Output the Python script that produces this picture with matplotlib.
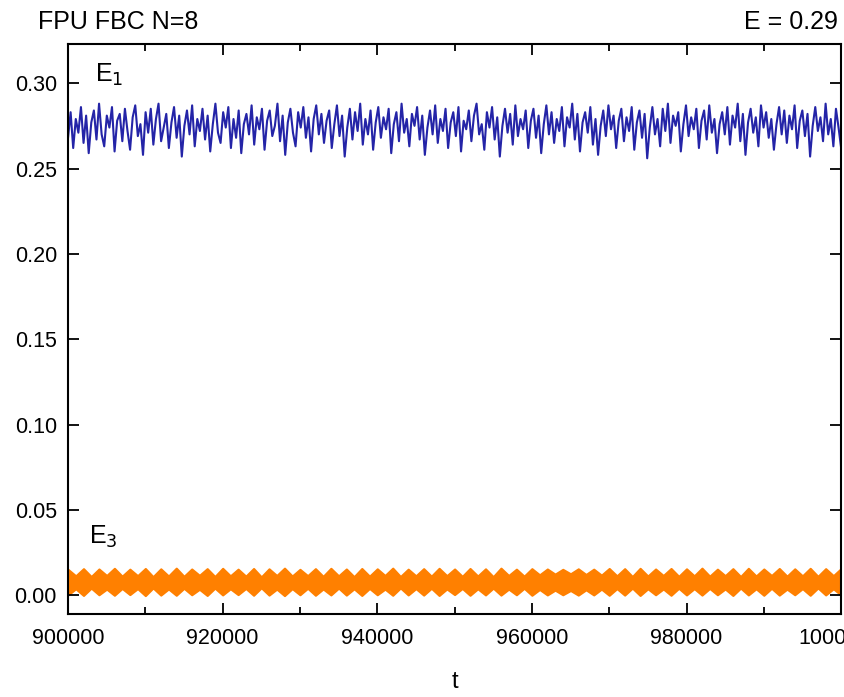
import numpy as np
import matplotlib.pyplot as plt
from matplotlib.ticker import FuncFormatter

plt.rcParams['font.family'] = ['Liberation Sans', 'DejaVu Sans']

# E1 mode energy (units of 1e-3)
e1_milli = [
    268, 283, 262, 279, 271, 286, 265, 281, 259, 277, 284, 267, 288, 270, 263, 281, 274, 286, 260, 278,
    282, 266, 285, 272, 261, 280, 287, 269, 276, 258, 283, 271, 285, 264, 279, 288, 266, 274, 282, 262,
    277, 286, 268, 281, 257, 275, 284, 270, 287, 263, 279, 272, 285, 267, 281, 260, 276, 288, 271, 265,
    283, 274, 286, 262, 279, 268, 284, 259, 276, 282, 270, 287, 264, 280, 273, 285, 261, 278, 284, 269,
    275, 288, 266, 281, 258, 277, 285, 271, 263, 283, 274, 286, 268, 280, 260, 279, 287, 270, 282, 265,
    278, 284, 262, 276, 287, 269, 281, 257, 274, 285, 267, 283, 272, 288, 264, 279, 270, 284, 261, 277,
    286, 268, 280, 273, 285, 259, 276, 283, 266, 288, 271, 279, 263, 282, 275, 286, 267, 281, 258, 274,
    284, 270, 287, 265, 279, 272, 285, 262, 277, 283, 269, 286, 260, 278, 273, 284, 266, 281, 288, 270,
    276, 261, 283, 274, 286, 267, 280, 257, 275, 285, 271, 282, 264, 287, 269, 279, 273, 284, 262, 278,
    285, 268, 281, 259, 276, 287, 270, 283, 265, 279, 272, 286, 263, 280, 274, 288, 267, 282, 260, 277,
    283, 271, 286, 264, 279, 258, 275, 284, 269, 287, 273, 281, 262, 278, 285, 266, 280, 272, 286, 261,
    277, 284, 268, 282, 256, 274, 286, 270, 279, 263, 285, 272, 288, 265, 281, 275, 283, 260, 276, 287,
    269, 280, 273, 285, 262, 278, 284, 267, 287, 271, 279, 259, 276, 283, 270, 286, 264, 281, 274, 288,
    266, 282, 258, 277, 285, 271, 280, 263, 287, 274, 283, 268, 279, 261, 276, 286, 270, 284, 265, 281,
    273, 287, 262, 278, 284, 269, 282, 257, 275, 286, 272, 280, 266, 288, 270, 279, 263, 285, 274, 262,
]

# E3: upper / lower envelope of the fast oscillation (beats), units of 1e-3
e3_hi_milli = [
    15.2, 11.4, 15.6, 11.0, 15.4, 11.6, 15.8, 11.2, 15.3, 11.5, 15.7, 10.9, 15.5, 11.3, 15.9, 11.1, 15.4, 11.7, 15.6, 11.0,
    15.8, 11.4, 15.3, 11.2, 15.7, 10.8, 15.5, 11.6, 15.9, 11.3, 15.2, 11.5, 15.6, 11.1, 15.8, 11.4, 15.4, 10.9, 15.7, 11.2,
    15.5, 11.6, 15.9, 11.0, 15.3, 11.4, 15.6, 11.2, 15.8, 11.5, 15.4, 11.1, 15.7, 11.3, 15.5, 10.9, 15.9, 11.6, 15.3, 11.2,
    15.6, 12.0, 15.4, 12.4, 15.2, 12.6, 15.5, 12.2, 15.3, 11.8, 15.7, 11.4, 15.6, 11.0, 15.8, 11.3, 15.4, 11.6, 15.7, 11.1,
    15.5, 11.4, 15.9, 11.2, 15.3, 11.5, 15.6, 11.0, 15.8, 11.3, 15.4, 11.6, 15.7, 11.2, 15.5, 11.4, 15.8, 11.1, 15.6, 11.5, 15.7,
]
e3_lo_milli = [
    0.2, 3.8, -0.1, 4.2, 0.3, 3.6, 0.0, 4.0, 0.4, 3.9, -0.2, 4.3, 0.1, 3.7, 0.0, 4.1, 0.3, 3.5, -0.1, 4.2,
    0.2, 3.8, 0.4, 4.0, 0.0, 4.4, 0.1, 3.6, -0.2, 3.9, 0.3, 4.1, 0.0, 3.7, 0.2, 4.2, 0.1, 3.8, -0.1, 4.0,
    0.3, 3.6, 0.0, 4.3, 0.2, 3.9, 0.1, 4.1, -0.1, 3.7, 0.4, 4.0, 0.0, 3.8, 0.2, 4.2, 0.1, 3.6, 0.3, 4.1,
    0.0, 3.4, 0.2, 3.0, 0.3, 2.8, 0.1, 3.2, 0.2, 3.6, 0.0, 3.9, 0.1, 4.2, -0.1, 3.8, 0.3, 3.7, 0.0, 4.1,
    0.2, 3.9, 0.1, 4.0, 0.3, 3.7, -0.1, 4.2, 0.2, 3.8, 0.0, 4.1, 0.1, 3.6, 0.3, 3.9, 0.0, 4.3, 0.2, 3.8, 0.1,
]

t_start, t_end = 900000, 1000000
e1 = np.array(e1_milli) / 1000
e3_hi = np.array(e3_hi_milli) / 1000
e3_lo = np.array(e3_lo_milli) / 1000
t1 = np.linspace(t_start, t_end, len(e1))
t3 = np.linspace(t_start, t_end, len(e3_hi))

fig = plt.figure(figsize=(8.44, 6.97), dpi=100)
ax = fig.add_axes([0.0806, 0.119, 0.916, 0.818])

ax.plot(t1, e1, color='#0c0c9e', lw=1.5, alpha=0.9)
ax.fill_between(t3, e3_lo, e3_hi, color='#ff8000', lw=1.5, edgecolor='#ff8000', joinstyle='round')

ax.set_xlim(t_start, t_end)
ax.set_ylim(-0.011, 0.323)
ax.set_xticks(np.arange(900000, 1000001, 20000))
ax.set_xticks(np.arange(900000, 1000001, 10000), minor=True)
ax.xaxis.set_major_formatter(FuncFormatter(lambda v, p: '%d' % round(v)))
ax.set_yticks(np.arange(0, 0.31, 0.05))
ax.set_yticklabels(['%.2f' % v for v in np.arange(0, 0.31, 0.05)])
ax.tick_params(which='both', direction='in', top=True, right=True, width=1.3, labelsize=15.5)
ax.tick_params(axis='x', pad=10)
ax.tick_params(axis='y', pad=8)
ax.tick_params(which='major', length=8)
ax.tick_params(which='minor', length=5)
for s in ax.spines.values():
    s.set_linewidth(1.5)

ax.set_xlabel('t', fontsize=17, labelpad=16)
ax.text(903500, 0.301, 'E$_1$', fontsize=18)
ax.text(902700, 0.030, 'E$_3$', fontsize=18)

fig.text(0.045, 0.968, 'FPU FBC N=8', fontsize=18, va='center', ha='left')
fig.text(0.993, 0.968, 'E = 0.29', fontsize=18, va='center', ha='right')

fig.savefig('out.png', dpi=100)
